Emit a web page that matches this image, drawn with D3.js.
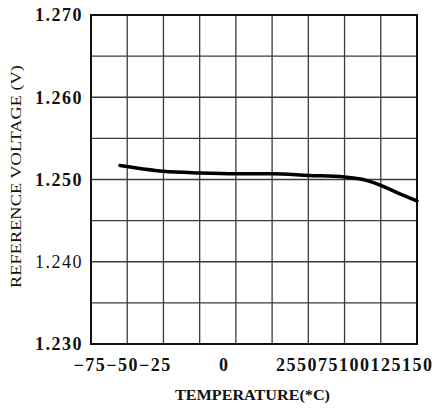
<!DOCTYPE html>
<html>
<head>
  <meta charset="utf-8">
  <title>Reference Voltage vs. Temperature</title>
  <script src="https://d3js.org/d3.v7.min.js"></script>
  <style>
    body {
      margin: 0;
      background: #fff;
    }
    .grid line {
      stroke: #3a3a3a;
      stroke-width: 1.3px;
    }
    .frame {
      fill: none;
      stroke: #111;
      stroke-width: 2px;
    }
    .tick-label {
      font-family: "Liberation Serif", "DejaVu Serif", serif;
      font-size: 18px;
      font-weight: bold;
      letter-spacing: 1.5px;
      fill: #111;
    }
    .axis-title {
      font-family: "Liberation Serif", "DejaVu Serif", serif;
      fill: #111;
    }
    .curve {
      fill: none;
      stroke: #000;
      stroke-width: 3.5px;
      stroke-linecap: round;
    }
  </style>
</head>
<body>
  <div id="chart"></div>

  <script>
    // data
    const temps = [-55, -25, 0, 25, 50, 75, 100, 115, 125, 135, 150];
    const volts = [1.2517, 1.2510, 1.2508, 1.2507, 1.2507, 1.2505, 1.2503, 1.2499, 1.2493, 1.2485, 1.2474];

    const xTicks = [-75, -50, -25, 0, 25, 50, 75, 100, 125, 150];
    const yTicks = [1.230, 1.240, 1.250, 1.260, 1.270];
    const yGrid = [1.230, 1.235, 1.240, 1.245, 1.250, 1.255, 1.260, 1.265, 1.270];

    // margins and dimensions
    const margin = { top: 15, right: 18, bottom: 75, left: 91 },
          width = 435 - margin.left - margin.right,
          height = 419 - margin.top - margin.bottom;

    const svg = d3.select("#chart")
      .append("svg")
      .attr("width", 435)
      .attr("height", 419)
      .append("g")
      .attr("transform", `translate(${margin.left},${margin.top})`);

    // scales
    const x = d3.scaleLinear().domain([-75, 150]).range([0, width]);
    const y = d3.scaleLinear().domain([1.230, 1.270]).range([height, 0]);

    // grid
    const grid = svg.append("g").attr("class", "grid");
    grid.selectAll(".v")
      .data(xTicks.slice(1, -1))
      .enter()
      .append("line")
      .attr("x1", d => x(d))
      .attr("x2", d => x(d))
      .attr("y1", 0)
      .attr("y2", height);
    grid.selectAll(".h")
      .data(yGrid.slice(1, -1))
      .enter()
      .append("line")
      .attr("x1", 0)
      .attr("x2", width)
      .attr("y1", d => y(d))
      .attr("y2", d => y(d));

    // frame
    svg.append("rect")
      .attr("class", "frame")
      .attr("x", 0)
      .attr("y", 0)
      .attr("width", width)
      .attr("height", height);

    // curve
    const data = temps.map((t, i) => ({ t, v: volts[i] }));
    const line = d3.line()
      .x(d => x(d.t))
      .y(d => y(d.v))
      .curve(d3.curveMonotoneX);
    svg.append("path")
      .datum(data)
      .attr("class", "curve")
      .attr("d", line);

    // y axis labels
    const yAxis = svg.append("g")
      .call(d3.axisLeft(y).tickValues(yTicks).tickSize(0).tickPadding(8).tickFormat(d3.format(".3f")));
    yAxis.select(".domain").remove();
    yAxis.selectAll("text")
      .attr("class", "tick-label")
      .style("font-weight", d => d === 1.240 ? "normal" : "bold");

    // x axis labels
    const xAxis = svg.append("g")
      .attr("transform", `translate(0,${height})`)
      .call(d3.axisBottom(x).tickValues(xTicks).tickSize(0).tickPadding(14)
        .tickFormat(d => d < 0 ? "\u2212" + (-d) : String(d)));
    xAxis.select(".domain").remove();
    xAxis.selectAll("text")
      .attr("class", "tick-label")
      .attr("dy", "0.71em");

    // the labels sit packed together in the original, not under their lines
    const labels = xAxis.selectAll(".tick").nodes();
    const widthOf = node => d3.select(node).select("text").node().getBBox().width;
    const place = (node, left) => {
      const tx = x(d3.select(node).datum());
      d3.select(node).select("text")
        .attr("text-anchor", "start")
        .attr("x", left - tx);
    };
    let cursor = x(-75) - 18;
    labels.filter(n => d3.select(n).datum() < 0).forEach(n => {
      place(n, cursor);
      cursor += widthOf(n);
    });
    labels.filter(n => d3.select(n).datum() === 0).forEach(n => {
      place(n, x(0) + 24 - widthOf(n) / 2);
    });
    const right = labels.filter(n => d3.select(n).datum() > 0);
    cursor = x(150) + 16 - d3.sum(right, widthOf);
    right.forEach(n => {
      place(n, cursor);
      cursor += widthOf(n);
    });

    // axis titles
    svg.append("text")
      .attr("class", "axis-title")
      .attr("x", 84)
      .attr("y", height + 56)
      .attr("textLength", 155)
      .attr("lengthAdjust", "spacingAndGlyphs")
      .style("font-size", "15px")
      .style("font-weight", "bold")
      .text("TEMPERATURE(*C)");

    svg.append("text")
      .attr("class", "axis-title")
      .attr("transform", "rotate(-90)")
      .attr("x", -(288 - margin.top))
      .attr("y", -margin.left + 21)
      .attr("textLength", 223)
      .attr("lengthAdjust", "spacingAndGlyphs")
      .style("font-size", "14px")
      .text("REFERENCE VOLTAGE  (V)");
  </script>
</body>
</html>
